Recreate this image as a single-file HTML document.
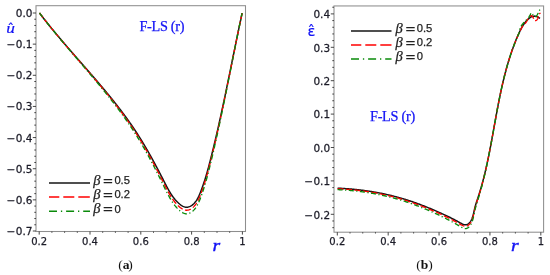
<!DOCTYPE html>
<html><head><meta charset="utf-8"><style>
html,body{margin:0;padding:0;background:#fff;}
svg{display:block;}
</style></head><body>
<svg width="550" height="275" viewBox="0 0 550 275">
<rect width="550" height="275" fill="#fff"/>
<!-- LEFT PLOT -->
<rect x="36" y="5.7" width="209.5" height="225.8" fill="none" stroke="#8e8e8e" stroke-width="1.05"/>
<path d="M32.8,13.00 H36 M32.8,44.14 H36 M32.8,75.29 H36 M32.8,106.43 H36 M32.8,137.57 H36 M32.8,168.72 H36 M32.8,199.86 H36 M32.8,231.00 H36 M34.3,19.23 H36 M34.3,25.46 H36 M34.3,31.69 H36 M34.3,37.91 H36 M34.3,50.37 H36 M34.3,56.60 H36 M34.3,62.83 H36 M34.3,69.06 H36 M34.3,81.51 H36 M34.3,87.74 H36 M34.3,93.97 H36 M34.3,100.20 H36 M34.3,112.66 H36 M34.3,118.89 H36 M34.3,125.11 H36 M34.3,131.34 H36 M34.3,143.80 H36 M34.3,150.03 H36 M34.3,156.26 H36 M34.3,162.49 H36 M34.3,174.94 H36 M34.3,181.17 H36 M34.3,187.40 H36 M34.3,193.63 H36 M34.3,206.09 H36 M34.3,212.32 H36 M34.3,218.54 H36 M34.3,224.77 H36 M39.20,231.5 V234.6 M90.00,231.5 V234.6 M140.80,231.5 V234.6 M191.60,231.5 V234.6 M242.40,231.5 V234.6 M51.90,231.5 V232.8 M64.60,231.5 V232.8 M77.30,231.5 V232.8 M102.70,231.5 V232.8 M115.40,231.5 V232.8 M128.10,231.5 V232.8 M153.50,231.5 V232.8 M166.20,231.5 V232.8 M178.90,231.5 V232.8 M204.30,231.5 V232.8 M217.00,231.5 V232.8 M229.70,231.5 V232.8" stroke="#333" stroke-width="0.9" fill="none"/>
<g font-family="DejaVu Sans, Liberation Sans, sans-serif" font-size="10" fill="#1c1c28" stroke="#1c1c28" stroke-width="0.25">
<text transform="translate(32.5 17.00) scale(1.05 1)" text-anchor="end">0.0</text>
<text transform="translate(32.5 48.14) scale(1.05 1)" text-anchor="end"><tspan>−</tspan><tspan dx="0.4">0.1</tspan></text>
<text transform="translate(32.5 79.29) scale(1.05 1)" text-anchor="end"><tspan>−</tspan><tspan dx="0.4">0.2</tspan></text>
<text transform="translate(32.5 110.43) scale(1.05 1)" text-anchor="end"><tspan>−</tspan><tspan dx="0.4">0.3</tspan></text>
<text transform="translate(32.5 141.57) scale(1.05 1)" text-anchor="end"><tspan>−</tspan><tspan dx="0.4">0.4</tspan></text>
<text transform="translate(32.5 172.72) scale(1.05 1)" text-anchor="end"><tspan>−</tspan><tspan dx="0.4">0.5</tspan></text>
<text transform="translate(32.5 203.86) scale(1.05 1)" text-anchor="end"><tspan>−</tspan><tspan dx="0.4">0.6</tspan></text>
<text transform="translate(32.5 235.00) scale(1.05 1)" text-anchor="end"><tspan>−</tspan><tspan dx="0.4">0.7</tspan></text>
<text x="39.20" y="245.20" text-anchor="middle">0.2</text>
<text x="90.00" y="245.20" text-anchor="middle">0.4</text>
<text x="140.80" y="245.20" text-anchor="middle">0.6</text>
<text x="191.60" y="245.20" text-anchor="middle">0.8</text>
<text x="242.40" y="245.20" text-anchor="middle">1</text>
</g>
<g fill="none" stroke-linejoin="round">
<path d="M39.50,13.01 L39.95,13.60 L40.40,14.20 L40.86,14.80 L41.31,15.39 L41.77,15.99 L42.23,16.58 L42.69,17.17 L43.15,17.77 L43.61,18.36 L44.07,18.95 L44.53,19.54 L45.00,20.13 L45.46,20.72 L45.93,21.31 L46.39,21.90 L46.86,22.49 L47.33,23.08 L47.80,23.66 L48.27,24.25 L48.74,24.84 L49.21,25.42 L49.69,26.01 L50.16,26.59 L50.63,27.18 L51.11,27.76 L51.58,28.35 L52.06,28.93 L52.54,29.51 L53.02,30.09 L53.50,30.67 L53.98,31.26 L54.46,31.84 L54.94,32.42 L55.42,33.00 L55.90,33.58 L56.38,34.15 L56.87,34.73 L57.35,35.31 L57.84,35.89 L58.32,36.47 L58.81,37.04 L59.30,37.62 L59.78,38.20 L60.27,38.77 L60.76,39.35 L61.25,39.93 L61.74,40.50 L62.23,41.08 L62.72,41.65 L63.21,42.23 L63.70,42.80 L64.19,43.37 L64.68,43.95 L65.17,44.52 L65.67,45.09 L66.16,45.67 L66.65,46.24 L67.15,46.81 L67.64,47.38 L68.14,47.96 L68.63,48.53 L69.13,49.10 L69.62,49.67 L70.12,50.24 L70.62,50.81 L71.11,51.39 L71.61,51.96 L72.11,52.53 L72.60,53.10 L73.10,53.67 L73.60,54.24 L74.10,54.81 L74.59,55.38 L75.09,55.95 L75.59,56.52 L76.09,57.09 L76.59,57.66 L77.09,58.23 L77.59,58.80 L78.08,59.37 L78.58,59.94 L79.08,60.51 L79.58,61.08 L80.08,61.65 L80.58,62.22 L81.08,62.79 L81.58,63.36 L82.08,63.93 L82.58,64.50 L83.07,65.07 L83.57,65.64 L84.07,66.21 L84.57,66.78 L85.07,67.35 L85.57,67.92 L86.07,68.49 L86.57,69.06 L87.06,69.63 L87.56,70.20 L88.06,70.77 L88.56,71.34 L89.05,71.92 L89.55,72.49 L90.05,73.06 L90.54,73.63 L91.04,74.20 L91.54,74.77 L92.03,75.35 L92.53,75.92 L93.02,76.49 L93.52,77.06 L94.01,77.64 L94.51,78.21 L95.00,78.78 L95.50,79.36 L95.99,79.93 L96.48,80.51 L96.98,81.08 L97.47,81.65 L97.96,82.23 L98.45,82.81 L98.94,83.38 L99.43,83.96 L99.92,84.53 L100.41,85.11 L100.90,85.69 L101.39,86.26 L101.87,86.84 L102.36,87.42 L102.85,88.00 L103.33,88.58 L103.82,89.16 L104.30,89.74 L104.79,90.32 L105.27,90.90 L105.76,91.48 L106.24,92.06 L106.72,92.64 L107.20,93.22 L107.68,93.80 L108.16,94.39 L108.64,94.97 L109.12,95.55 L109.60,96.14 L110.07,96.72 L110.55,97.31 L111.02,97.89 L111.50,98.48 L111.97,99.07 L112.44,99.65 L112.92,100.24 L113.39,100.83 L113.86,101.42 L114.33,102.01 L114.79,102.60 L115.26,103.19 L115.73,103.78 L116.19,104.37 L116.66,104.97 L117.12,105.56 L117.59,106.15 L118.05,106.75 L118.51,107.34 L118.97,107.94 L119.43,108.53 L119.89,109.13 L120.34,109.73 L120.80,110.33 L121.25,110.92 L121.71,111.52 L122.16,112.12 L122.61,112.73 L123.06,113.33 L123.51,113.93 L123.96,114.53 L124.41,115.14 L124.85,115.74 L125.30,116.35 L125.74,116.95 L126.18,117.56 L126.62,118.17 L127.06,118.78 L127.50,119.39 L127.94,120.00 L128.37,120.61 L128.81,121.22 L129.24,121.83 L129.67,122.44 L130.11,123.06 L130.53,123.67 L130.96,124.29 L131.39,124.91 L131.82,125.52 L132.24,126.14 L132.66,126.76 L133.08,127.38 L133.50,128.00 L133.92,128.62 L134.34,129.25 L134.75,129.87 L135.17,130.50 L135.58,131.12 L135.99,131.75 L136.40,132.38 L136.81,133.00 L137.22,133.63 L137.62,134.26 L138.03,134.90 L138.43,135.53 L138.83,136.16 L139.23,136.80 L139.63,137.43 L140.03,138.07 L140.42,138.70 L140.82,139.34 L141.21,139.98 L141.60,140.62 L142.00,141.26 L142.39,141.90 L142.78,142.54 L143.16,143.19 L143.55,143.83 L143.94,144.48 L144.32,145.12 L144.71,145.77 L145.09,146.42 L145.47,147.06 L145.85,147.71 L146.23,148.36 L146.61,149.01 L146.99,149.67 L147.36,150.32 L147.74,150.97 L148.11,151.63 L148.49,152.28 L148.86,152.94 L149.23,153.59 L149.60,154.25 L149.97,154.91 L150.34,155.57 L150.71,156.23 L151.08,156.89 L151.45,157.55 L151.82,158.22 L152.18,158.88 L152.55,159.54 L152.91,160.21 L153.28,160.88 L153.64,161.54 L154.00,162.21 L154.36,162.88 L154.73,163.55 L155.09,164.22 L155.45,164.89 L155.81,165.56 L156.17,166.23 L156.53,166.91 L156.88,167.58 L157.24,168.26 L157.60,168.93 L157.96,169.61 L158.31,170.29 L158.67,170.96 L159.03,171.64 L159.38,172.32 L159.74,173.00 L160.09,173.68 L160.45,174.37 L160.80,175.05 L161.15,175.73 L161.51,176.42 L161.86,177.10 L162.21,177.79 L162.57,178.47 L162.92,179.16 L163.27,179.85 L163.62,180.54 L163.98,181.23 L164.33,181.92 L164.68,182.61 L165.04,183.29 L165.39,183.98 L165.75,184.67 L166.10,185.36 L166.46,186.04 L166.82,186.73 L167.19,187.41 L167.55,188.08 L167.92,188.76 L168.30,189.43 L168.67,190.10 L169.05,190.76 L169.44,191.42 L169.83,192.07 L170.22,192.72 L170.62,193.36 L171.02,194.00 L171.44,194.63 L171.85,195.25 L172.27,195.87 L172.70,196.48 L173.14,197.08 L173.58,197.67 L174.03,198.25 L174.49,198.83 L174.95,199.40 L175.43,199.95 L175.91,200.50 L176.40,201.04 L176.90,201.56 L177.41,202.08 L177.93,202.58 L178.46,203.07 L179.01,203.55 L179.56,204.02 L180.12,204.47 L180.69,204.91 L181.27,205.32 L181.86,205.71 L182.46,206.07 L183.07,206.38 L183.69,206.66 L184.31,206.89 L184.94,207.06 L185.58,207.18 L186.22,207.24 L186.86,207.23 L187.51,207.16 L188.15,207.04 L188.79,206.87 L189.43,206.64 L190.05,206.37 L190.67,206.06 L191.27,205.70 L191.86,205.31 L192.43,204.89 L192.98,204.44 L193.51,203.96 L194.03,203.45 L194.52,202.92 L195.00,202.36 L195.46,201.78 L195.91,201.18 L196.34,200.56 L196.75,199.92 L197.15,199.27 L197.54,198.59 L197.92,197.91 L198.28,197.21 L198.64,196.50 L198.98,195.78 L199.31,195.05 L199.63,194.31 L199.95,193.56 L200.26,192.81 L200.56,192.06 L200.85,191.31 L201.14,190.55 L201.42,189.80 L201.70,189.04 L201.98,188.29 L202.25,187.54 L202.51,186.80 L202.78,186.05 L203.04,185.31 L203.29,184.57 L203.54,183.83 L203.79,183.09 L204.03,182.35 L204.28,181.61 L204.51,180.88 L204.75,180.15 L204.98,179.41 L205.21,178.68 L205.43,177.95 L205.66,177.23 L205.88,176.50 L206.10,175.77 L206.31,175.05 L206.52,174.32 L206.73,173.60 L206.94,172.87 L207.15,172.15 L207.35,171.43 L207.55,170.71 L207.75,169.99 L207.95,169.27 L208.15,168.55 L208.34,167.83 L208.54,167.11 L208.73,166.39 L208.92,165.67 L209.11,164.95 L209.30,164.23 L209.49,163.51 L209.67,162.79 L209.86,162.07 L210.04,161.35 L210.23,160.63 L210.41,159.91 L210.59,159.19 L210.78,158.47 L210.96,157.75 L211.14,157.03 L211.32,156.30 L211.50,155.58 L211.68,154.86 L211.86,154.13 L212.04,153.41 L212.22,152.69 L212.40,151.96 L212.58,151.24 L212.76,150.51 L212.94,149.79 L213.11,149.06 L213.29,148.33 L213.47,147.61 L213.64,146.88 L213.82,146.15 L213.99,145.43 L214.17,144.70 L214.34,143.97 L214.52,143.24 L214.69,142.51 L214.86,141.78 L215.03,141.05 L215.21,140.32 L215.38,139.59 L215.55,138.86 L215.72,138.13 L215.89,137.40 L216.06,136.67 L216.23,135.94 L216.40,135.20 L216.57,134.47 L216.74,133.74 L216.91,133.01 L217.08,132.27 L217.25,131.54 L217.42,130.81 L217.58,130.07 L217.75,129.34 L217.92,128.60 L218.08,127.87 L218.25,127.14 L218.42,126.40 L218.58,125.66 L218.75,124.93 L218.91,124.19 L219.08,123.46 L219.24,122.72 L219.40,121.98 L219.57,121.25 L219.73,120.51 L219.89,119.77 L220.06,119.04 L220.22,118.30 L220.38,117.56 L220.54,116.82 L220.71,116.09 L220.87,115.35 L221.03,114.61 L221.19,113.87 L221.35,113.13 L221.51,112.39 L221.67,111.65 L221.83,110.91 L221.99,110.17 L222.15,109.43 L222.31,108.69 L222.47,107.95 L222.63,107.21 L222.79,106.47 L222.94,105.73 L223.10,104.99 L223.26,104.25 L223.42,103.51 L223.58,102.77 L223.73,102.03 L223.89,101.29 L224.05,100.55 L224.20,99.80 L224.36,99.06 L224.52,98.32 L224.67,97.58 L224.83,96.84 L224.98,96.09 L225.14,95.35 L225.29,94.61 L225.45,93.87 L225.61,93.13 L225.76,92.38 L225.91,91.64 L226.07,90.90 L226.22,90.15 L226.38,89.41 L226.53,88.67 L226.69,87.93 L226.84,87.18 L226.99,86.44 L227.15,85.70 L227.30,84.95 L227.45,84.21 L227.61,83.47 L227.76,82.72 L227.91,81.98 L228.07,81.24 L228.22,80.49 L228.37,79.75 L228.52,79.01 L228.68,78.26 L228.83,77.52 L228.98,76.78 L229.13,76.03 L229.29,75.29 L229.44,74.55 L229.59,73.80 L229.74,73.06 L229.89,72.32 L230.05,71.57 L230.20,70.83 L230.35,70.09 L230.50,69.34 L230.65,68.60 L230.80,67.86 L230.95,67.11 L231.11,66.37 L231.26,65.63 L231.41,64.89 L231.56,64.14 L231.71,63.40 L231.86,62.66 L232.01,61.91 L232.16,61.17 L232.32,60.43 L232.47,59.69 L232.62,58.94 L232.77,58.20 L232.92,57.46 L233.07,56.72 L233.22,55.97 L233.37,55.23 L233.52,54.49 L233.68,53.75 L233.83,53.01 L233.98,52.26 L234.13,51.52 L234.28,50.78 L234.43,50.04 L234.58,49.30 L234.73,48.56 L234.88,47.82 L235.04,47.08 L235.19,46.33 L235.34,45.59 L235.49,44.85 L235.64,44.11 L235.79,43.37 L235.94,42.63 L236.10,41.89 L236.25,41.15 L236.40,40.41 L236.55,39.68 L236.70,38.94 L236.86,38.20 L237.01,37.46 L237.16,36.72 L237.31,35.98 L237.46,35.24 L237.62,34.51 L237.77,33.77 L237.92,33.03 L238.08,32.29 L238.23,31.55 L238.38,30.82 L238.53,30.08 L238.69,29.34 L238.84,28.61 L238.99,27.87 L239.15,27.14 L239.30,26.40 L239.46,25.66 L239.61,24.93 L239.76,24.19 L239.92,23.46 L240.07,22.73 L240.23,21.99 L240.38,21.26 L240.54,20.52 L240.69,19.79 L240.85,19.06 L241.00,18.32 L241.16,17.59 L241.32,16.86 L241.47,16.13 L241.63,15.39 L241.78,14.66 L241.94,13.93 L242.10,13.20" stroke="#151515" stroke-width="1.5"/>
<path d="M39.50,13.01 L39.95,13.60 L40.40,14.20 L40.86,14.80 L41.31,15.39 L41.77,15.99 L42.23,16.59 L42.69,17.18 L43.15,17.77 L43.61,18.37 L44.07,18.96 L44.53,19.56 L45.00,20.15 L45.46,20.74 L45.93,21.33 L46.39,21.92 L46.86,22.51 L47.33,23.10 L47.80,23.69 L48.27,24.28 L48.74,24.87 L49.21,25.46 L49.69,26.05 L50.16,26.64 L50.63,27.22 L51.11,27.81 L51.58,28.40 L52.06,28.98 L52.54,29.57 L53.02,30.15 L53.50,30.74 L53.98,31.32 L54.46,31.91 L54.94,32.49 L55.42,33.07 L55.90,33.66 L56.38,34.24 L56.87,34.82 L57.35,35.41 L57.84,35.99 L58.32,36.57 L58.81,37.15 L59.30,37.73 L59.78,38.31 L60.27,38.89 L60.76,39.47 L61.25,40.05 L61.74,40.63 L62.23,41.21 L62.72,41.79 L63.21,42.37 L63.70,42.95 L64.19,43.53 L64.68,44.11 L65.17,44.68 L65.67,45.26 L66.16,45.84 L66.65,46.42 L67.15,46.99 L67.64,47.57 L68.14,48.15 L68.63,48.73 L69.13,49.30 L69.62,49.88 L70.12,50.46 L70.62,51.03 L71.11,51.61 L71.61,52.19 L72.11,52.76 L72.60,53.34 L73.10,53.91 L73.60,54.49 L74.10,55.07 L74.59,55.64 L75.09,56.22 L75.59,56.79 L76.09,57.37 L76.59,57.95 L77.09,58.52 L77.59,59.10 L78.08,59.67 L78.58,60.25 L79.08,60.83 L79.58,61.40 L80.08,61.98 L80.58,62.55 L81.08,63.13 L81.58,63.71 L82.08,64.28 L82.58,64.86 L83.07,65.43 L83.57,66.01 L84.07,66.59 L84.57,67.16 L85.07,67.74 L85.57,68.32 L86.07,68.90 L86.57,69.47 L87.06,70.05 L87.56,70.63 L88.06,71.20 L88.56,71.78 L89.05,72.36 L89.55,72.94 L90.05,73.52 L90.54,74.10 L91.04,74.67 L91.54,75.25 L92.03,75.83 L92.53,76.41 L93.02,76.99 L93.52,77.57 L94.01,78.15 L94.51,78.73 L95.00,79.31 L95.50,79.90 L95.99,80.48 L96.48,81.06 L96.98,81.64 L97.47,82.22 L97.96,82.81 L98.45,83.39 L98.94,83.97 L99.43,84.56 L99.92,85.14 L100.41,85.72 L100.90,86.31 L101.39,86.89 L101.87,87.48 L102.36,88.07 L102.85,88.65 L103.33,89.24 L103.82,89.83 L104.30,90.41 L104.79,91.00 L105.27,91.59 L105.76,92.18 L106.24,92.77 L106.72,93.36 L107.20,93.95 L107.68,94.54 L108.16,95.13 L108.64,95.72 L109.12,96.32 L109.60,96.91 L110.07,97.50 L110.55,98.10 L111.02,98.69 L111.50,99.29 L111.97,99.88 L112.44,100.48 L112.92,101.08 L113.39,101.67 L113.86,102.27 L114.33,102.87 L114.79,103.47 L115.26,104.07 L115.73,104.67 L116.19,105.27 L116.66,105.87 L117.12,106.48 L117.59,107.08 L118.05,107.68 L118.51,108.29 L118.97,108.89 L119.43,109.50 L119.89,110.10 L120.34,110.71 L120.80,111.32 L121.25,111.93 L121.71,112.54 L122.16,113.15 L122.61,113.76 L123.06,114.37 L123.51,114.98 L123.96,115.60 L124.41,116.21 L124.85,116.82 L125.30,117.44 L125.74,118.06 L126.18,118.67 L126.62,119.29 L127.06,119.91 L127.50,120.53 L127.94,121.15 L128.37,121.77 L128.81,122.39 L129.24,123.02 L129.67,123.64 L130.11,124.27 L130.53,124.89 L130.96,125.52 L131.39,126.15 L131.82,126.78 L132.24,127.41 L132.66,128.04 L133.08,128.67 L133.50,129.30 L133.92,129.93 L134.34,130.57 L134.75,131.20 L135.17,131.84 L135.58,132.48 L135.99,133.11 L136.40,133.75 L136.81,134.39 L137.22,135.03 L137.62,135.68 L138.03,136.32 L138.43,136.96 L138.83,137.61 L139.23,138.26 L139.63,138.90 L140.03,139.55 L140.42,140.20 L140.82,140.85 L141.21,141.50 L141.60,142.15 L142.00,142.80 L142.39,143.46 L142.78,144.11 L143.16,144.77 L143.55,145.43 L143.94,146.08 L144.32,146.74 L144.71,147.40 L145.09,148.06 L145.47,148.72 L145.85,149.38 L146.23,150.05 L146.61,150.71 L146.99,151.38 L147.36,152.04 L147.74,152.71 L148.11,153.38 L148.49,154.04 L148.86,154.71 L149.23,155.38 L149.60,156.06 L149.97,156.73 L150.34,157.40 L150.71,158.07 L151.08,158.75 L151.45,159.42 L151.82,160.10 L152.18,160.78 L152.55,161.46 L152.91,162.14 L153.28,162.82 L153.64,163.50 L154.00,164.18 L154.36,164.86 L154.73,165.54 L155.09,166.23 L155.45,166.91 L155.81,167.60 L156.17,168.29 L156.53,168.98 L156.88,169.66 L157.24,170.35 L157.60,171.04 L157.96,171.73 L158.31,172.43 L158.67,173.12 L159.03,173.81 L159.38,174.51 L159.74,175.20 L160.09,175.90 L160.45,176.60 L160.80,177.29 L161.15,177.99 L161.51,178.69 L161.86,179.39 L162.21,180.09 L162.57,180.79 L162.92,181.50 L163.27,182.20 L163.62,182.90 L163.98,183.61 L164.33,184.32 L164.68,185.02 L165.04,185.73 L165.39,186.43 L165.75,187.13 L166.10,187.84 L166.46,188.54 L166.82,189.24 L167.19,189.93 L167.55,190.63 L167.92,191.32 L168.30,192.00 L168.67,192.68 L169.05,193.36 L169.44,194.04 L169.83,194.71 L170.22,195.37 L170.62,196.03 L171.02,196.68 L171.44,197.32 L171.85,197.96 L172.27,198.59 L172.70,199.22 L173.14,199.83 L173.58,200.44 L174.03,201.04 L174.49,201.63 L174.95,202.21 L175.43,202.78 L175.91,203.34 L176.40,203.89 L176.90,204.42 L177.41,204.95 L177.93,205.47 L178.46,205.97 L179.01,206.46 L179.56,206.94 L180.12,207.41 L180.69,207.85 L181.27,208.28 L181.86,208.67 L182.46,209.04 L183.07,209.36 L183.69,209.65 L184.31,209.88 L184.94,210.06 L185.58,210.18 L186.22,210.24 L186.86,210.23 L187.51,210.16 L188.15,210.04 L188.79,209.86 L189.43,209.63 L190.05,209.35 L190.67,209.03 L191.27,208.66 L191.86,208.27 L192.43,207.83 L192.98,207.37 L193.51,206.88 L194.03,206.36 L194.52,205.81 L195.00,205.24 L195.46,204.65 L195.91,204.03 L196.34,203.40 L196.75,202.74 L197.15,202.07 L197.54,201.38 L197.92,200.68 L198.28,199.96 L198.64,199.24 L198.98,198.50 L199.31,197.75 L199.63,196.99 L199.95,196.23 L200.26,195.47 L200.56,194.70 L200.85,193.92 L201.14,193.15 L201.42,192.38 L201.70,191.61 L201.98,190.84 L202.25,190.07 L202.51,189.31 L202.78,188.55 L203.04,187.79 L203.29,187.03 L203.54,186.27 L203.79,185.51 L204.03,184.76 L204.28,184.01 L204.51,183.26 L204.75,182.51 L204.98,181.76 L205.21,181.01 L205.43,180.26 L205.66,179.52 L205.88,178.78 L206.10,178.03 L206.31,177.29 L206.52,176.55 L206.73,175.81 L206.94,175.07 L207.15,174.33 L207.35,173.59 L207.55,172.86 L207.75,172.12 L207.95,171.38 L208.15,170.65 L208.34,169.91 L208.54,169.18 L208.73,168.44 L208.92,167.71 L209.11,166.97 L209.30,166.24 L209.49,165.51 L209.67,164.77 L209.86,164.04 L210.04,163.30 L210.23,162.57 L210.41,161.83 L210.59,161.10 L210.78,160.36 L210.96,159.62 L211.14,158.89 L211.32,158.15 L211.50,157.41 L211.68,156.67 L211.86,155.93 L212.04,155.20 L212.22,154.46 L212.40,153.72 L212.58,152.98 L212.76,152.24 L212.94,151.50 L213.11,150.76 L213.29,150.02 L213.47,149.28 L213.64,148.53 L213.82,147.79 L213.99,147.05 L214.17,146.31 L214.34,145.57 L214.52,144.82 L214.69,144.08 L214.86,143.34 L215.03,142.59 L215.21,141.85 L215.38,141.11 L215.55,140.36 L215.72,139.62 L215.89,138.87 L216.06,138.13 L216.23,137.38 L216.40,136.63 L216.57,135.89 L216.74,135.14 L216.91,134.40 L217.08,133.65 L217.25,132.90 L217.42,132.16 L217.58,131.41 L217.75,130.66 L217.92,129.91 L218.08,129.17 L218.25,128.42 L218.42,127.67 L218.58,126.92 L218.75,126.17 L218.91,125.42 L219.08,124.67 L219.24,123.92 L219.40,123.18 L219.57,122.43 L219.73,121.68 L219.89,120.93 L220.06,120.18 L220.22,119.43 L220.38,118.68 L220.54,117.92 L220.71,117.17 L220.87,116.42 L221.03,115.67 L221.19,114.92 L221.35,114.17 L221.51,113.42 L221.67,112.67 L221.83,111.92 L221.99,111.16 L222.15,110.41 L222.31,109.66 L222.47,108.91 L222.63,108.16 L222.79,107.40 L222.94,106.65 L223.10,105.90 L223.26,105.15 L223.42,104.39 L223.58,103.64 L223.73,102.89 L223.89,102.14 L224.05,101.38 L224.20,100.63 L224.36,99.88 L224.52,99.13 L224.67,98.37 L224.83,97.62 L224.98,96.87 L225.14,96.11 L225.29,95.36 L225.45,94.61 L225.61,93.85 L225.76,93.10 L225.91,92.35 L226.07,91.59 L226.22,90.84 L226.38,90.09 L226.53,89.33 L226.69,88.58 L226.84,87.83 L226.99,87.07 L227.15,86.32 L227.30,85.57 L227.45,84.81 L227.61,84.06 L227.76,83.31 L227.91,82.55 L228.07,81.80 L228.22,81.05 L228.37,80.29 L228.52,79.54 L228.68,78.79 L228.83,78.04 L228.98,77.28 L229.13,76.53 L229.29,75.78 L229.44,75.02 L229.59,74.27 L229.74,73.52 L229.89,72.77 L230.05,72.01 L230.20,71.26 L230.35,70.51 L230.50,69.76 L230.65,69.01 L230.80,68.25 L230.95,67.50 L231.11,66.75 L231.26,66.00 L231.41,65.25 L231.56,64.50 L231.71,63.75 L231.86,62.99 L232.01,62.24 L232.16,61.49 L232.32,60.74 L232.47,59.99 L232.62,59.24 L232.77,58.49 L232.92,57.74 L233.07,56.99 L233.22,56.24 L233.37,55.49 L233.52,54.74 L233.68,53.99 L233.83,53.25 L233.98,52.50 L234.13,51.75 L234.28,51.00 L234.43,50.25 L234.58,49.50 L234.73,48.76 L234.88,48.01 L235.04,47.26 L235.19,46.51 L235.34,45.77 L235.49,45.02 L235.64,44.27 L235.79,43.53 L235.94,42.78 L236.10,42.04 L236.25,41.29 L236.40,40.55 L236.55,39.80 L236.70,39.06 L236.86,38.31 L237.01,37.57 L237.16,36.82 L237.31,36.08 L237.46,35.34 L237.62,34.59 L237.77,33.85 L237.92,33.11 L238.08,32.37 L238.23,31.62 L238.38,30.88 L238.53,30.14 L238.69,29.40 L238.84,28.66 L238.99,27.92 L239.15,27.18 L239.30,26.44 L239.46,25.70 L239.61,24.96 L239.76,24.23 L239.92,23.49 L240.07,22.75 L240.23,22.01 L240.38,21.28 L240.54,20.54 L240.69,19.80 L240.85,19.07 L241.00,18.33 L241.16,17.60 L241.32,16.86 L241.47,16.13 L241.63,15.40 L241.78,14.66 L241.94,13.93 L242.10,13.20" stroke="#f00" stroke-width="1.35" stroke-dasharray="6 2.5"/>
<path d="M39.50,13.01 L39.95,13.60 L40.40,14.20 L40.86,14.80 L41.31,15.40 L41.77,15.99 L42.23,16.59 L42.69,17.19 L43.15,17.78 L43.61,18.38 L44.07,18.98 L44.53,19.57 L45.00,20.17 L45.46,20.76 L45.93,21.36 L46.39,21.95 L46.86,22.54 L47.33,23.14 L47.80,23.73 L48.27,24.32 L48.74,24.91 L49.21,25.50 L49.69,26.10 L50.16,26.69 L50.63,27.28 L51.11,27.87 L51.58,28.46 L52.06,29.05 L52.54,29.64 L53.02,30.23 L53.50,30.82 L53.98,31.41 L54.46,31.99 L54.94,32.58 L55.42,33.17 L55.90,33.76 L56.38,34.34 L56.87,34.93 L57.35,35.52 L57.84,36.11 L58.32,36.69 L58.81,37.28 L59.30,37.86 L59.78,38.45 L60.27,39.03 L60.76,39.62 L61.25,40.21 L61.74,40.79 L62.23,41.37 L62.72,41.96 L63.21,42.54 L63.70,43.13 L64.19,43.71 L64.68,44.30 L65.17,44.88 L65.67,45.46 L66.16,46.05 L66.65,46.63 L67.15,47.21 L67.64,47.80 L68.14,48.38 L68.63,48.96 L69.13,49.55 L69.62,50.13 L70.12,50.71 L70.62,51.30 L71.11,51.88 L71.61,52.46 L72.11,53.04 L72.60,53.63 L73.10,54.21 L73.60,54.79 L74.10,55.38 L74.59,55.96 L75.09,56.54 L75.59,57.12 L76.09,57.71 L76.59,58.29 L77.09,58.87 L77.59,59.45 L78.08,60.04 L78.58,60.62 L79.08,61.20 L79.58,61.79 L80.08,62.37 L80.58,62.95 L81.08,63.54 L81.58,64.12 L82.08,64.70 L82.58,65.29 L83.07,65.87 L83.57,66.46 L84.07,67.04 L84.57,67.63 L85.07,68.21 L85.57,68.80 L86.07,69.38 L86.57,69.97 L87.06,70.55 L87.56,71.14 L88.06,71.72 L88.56,72.31 L89.05,72.89 L89.55,73.48 L90.05,74.07 L90.54,74.65 L91.04,75.24 L91.54,75.83 L92.03,76.42 L92.53,77.01 L93.02,77.59 L93.52,78.18 L94.01,78.77 L94.51,79.36 L95.00,79.95 L95.50,80.54 L95.99,81.13 L96.48,81.72 L96.98,82.31 L97.47,82.91 L97.96,83.50 L98.45,84.09 L98.94,84.68 L99.43,85.27 L99.92,85.87 L100.41,86.46 L100.90,87.06 L101.39,87.65 L101.87,88.25 L102.36,88.84 L102.85,89.44 L103.33,90.03 L103.82,90.63 L104.30,91.23 L104.79,91.83 L105.27,92.43 L105.76,93.02 L106.24,93.62 L106.72,94.22 L107.20,94.82 L107.68,95.43 L108.16,96.03 L108.64,96.63 L109.12,97.23 L109.60,97.84 L110.07,98.44 L110.55,99.04 L111.02,99.65 L111.50,100.26 L111.97,100.86 L112.44,101.47 L112.92,102.08 L113.39,102.68 L113.86,103.29 L114.33,103.90 L114.79,104.51 L115.26,105.12 L115.73,105.74 L116.19,106.35 L116.66,106.96 L117.12,107.58 L117.59,108.19 L118.05,108.80 L118.51,109.42 L118.97,110.04 L119.43,110.65 L119.89,111.27 L120.34,111.89 L120.80,112.51 L121.25,113.13 L121.71,113.75 L122.16,114.38 L122.61,115.00 L123.06,115.62 L123.51,116.25 L123.96,116.87 L124.41,117.50 L124.85,118.12 L125.30,118.75 L125.74,119.38 L126.18,120.01 L126.62,120.64 L127.06,121.27 L127.50,121.90 L127.94,122.54 L128.37,123.17 L128.81,123.81 L129.24,124.44 L129.67,125.08 L130.11,125.72 L130.53,126.36 L130.96,127.00 L131.39,127.64 L131.82,128.28 L132.24,128.92 L132.66,129.57 L133.08,130.21 L133.50,130.86 L133.92,131.50 L134.34,132.15 L134.75,132.80 L135.17,133.45 L135.58,134.10 L135.99,134.75 L136.40,135.41 L136.81,136.06 L137.22,136.72 L137.62,137.37 L138.03,138.03 L138.43,138.69 L138.83,139.35 L139.23,140.01 L139.63,140.67 L140.03,141.33 L140.42,141.99 L140.82,142.66 L141.21,143.32 L141.60,143.99 L142.00,144.66 L142.39,145.33 L142.78,146.00 L143.16,146.67 L143.55,147.34 L143.94,148.01 L144.32,148.68 L144.71,149.36 L145.09,150.03 L145.47,150.71 L145.85,151.39 L146.23,152.07 L146.61,152.75 L146.99,153.43 L147.36,154.11 L147.74,154.79 L148.11,155.47 L148.49,156.16 L148.86,156.84 L149.23,157.53 L149.60,158.22 L149.97,158.91 L150.34,159.60 L150.71,160.29 L151.08,160.98 L151.45,161.67 L151.82,162.36 L152.18,163.06 L152.55,163.75 L152.91,164.45 L153.28,165.14 L153.64,165.84 L154.00,166.54 L154.36,167.24 L154.73,167.94 L155.09,168.64 L155.45,169.34 L155.81,170.05 L156.17,170.75 L156.53,171.46 L156.88,172.16 L157.24,172.87 L157.60,173.58 L157.96,174.29 L158.31,175.00 L158.67,175.71 L159.03,176.42 L159.38,177.13 L159.74,177.84 L160.09,178.56 L160.45,179.27 L160.80,179.99 L161.15,180.71 L161.51,181.42 L161.86,182.14 L162.21,182.86 L162.57,183.58 L162.92,184.30 L163.27,185.02 L163.62,185.75 L163.98,186.47 L164.33,187.19 L164.68,187.92 L165.04,188.64 L165.39,189.37 L165.75,190.09 L166.10,190.81 L166.46,191.53 L166.82,192.25 L167.19,192.96 L167.55,193.68 L167.92,194.38 L168.30,195.09 L168.67,195.79 L169.05,196.49 L169.44,197.18 L169.83,197.87 L170.22,198.55 L170.62,199.22 L171.02,199.89 L171.44,200.56 L171.85,201.21 L172.27,201.86 L172.70,202.50 L173.14,203.14 L173.58,203.76 L174.03,204.37 L174.49,204.98 L174.95,205.58 L175.43,206.16 L175.91,206.74 L176.40,207.30 L176.90,207.86 L177.41,208.40 L177.93,208.93 L178.46,209.45 L179.01,209.95 L179.56,210.45 L180.12,210.93 L180.69,211.39 L181.27,211.82 L181.86,212.23 L182.46,212.61 L183.07,212.94 L183.69,213.23 L184.31,213.47 L184.94,213.66 L185.58,213.78 L186.22,213.84 L186.86,213.83 L187.51,213.76 L188.15,213.63 L188.79,213.45 L189.43,213.21 L190.05,212.92 L190.67,212.59 L191.27,212.22 L191.86,211.81 L192.43,211.36 L192.98,210.89 L193.51,210.38 L194.03,209.85 L194.52,209.29 L195.00,208.70 L195.46,208.09 L195.91,207.46 L196.34,206.80 L196.75,206.13 L197.15,205.44 L197.54,204.73 L197.92,204.01 L198.28,203.27 L198.64,202.52 L198.98,201.77 L199.31,201.00 L199.63,200.22 L199.95,199.44 L200.26,198.65 L200.56,197.86 L200.85,197.06 L201.14,196.27 L201.42,195.48 L201.70,194.69 L201.98,193.90 L202.25,193.11 L202.51,192.32 L202.78,191.54 L203.04,190.76 L203.29,189.98 L203.54,189.20 L203.79,188.43 L204.03,187.65 L204.28,186.88 L204.51,186.11 L204.75,185.34 L204.98,184.57 L205.21,183.80 L205.43,183.04 L205.66,182.27 L205.88,181.51 L206.10,180.75 L206.31,179.99 L206.52,179.23 L206.73,178.47 L206.94,177.71 L207.15,176.95 L207.35,176.19 L207.55,175.44 L207.75,174.68 L207.95,173.93 L208.15,173.17 L208.34,172.42 L208.54,171.67 L208.73,170.91 L208.92,170.16 L209.11,169.41 L209.30,168.65 L209.49,167.90 L209.67,167.15 L209.86,166.39 L210.04,165.64 L210.23,164.89 L210.41,164.13 L210.59,163.38 L210.78,162.63 L210.96,161.87 L211.14,161.12 L211.32,160.36 L211.50,159.61 L211.68,158.85 L211.86,158.10 L212.04,157.34 L212.22,156.58 L212.40,155.83 L212.58,155.07 L212.76,154.31 L212.94,153.55 L213.11,152.80 L213.29,152.04 L213.47,151.28 L213.64,150.52 L213.82,149.76 L213.99,149.00 L214.17,148.24 L214.34,147.48 L214.52,146.72 L214.69,145.96 L214.86,145.20 L215.03,144.44 L215.21,143.68 L215.38,142.92 L215.55,142.16 L215.72,141.40 L215.89,140.64 L216.06,139.87 L216.23,139.11 L216.40,138.35 L216.57,137.59 L216.74,136.83 L216.91,136.06 L217.08,135.30 L217.25,134.54 L217.42,133.77 L217.58,133.01 L217.75,132.25 L217.92,131.48 L218.08,130.72 L218.25,129.96 L218.42,129.19 L218.58,128.43 L218.75,127.66 L218.91,126.90 L219.08,126.13 L219.24,125.37 L219.40,124.60 L219.57,123.84 L219.73,123.07 L219.89,122.31 L220.06,121.54 L220.22,120.78 L220.38,120.01 L220.54,119.25 L220.71,118.48 L220.87,117.72 L221.03,116.95 L221.19,116.18 L221.35,115.42 L221.51,114.65 L221.67,113.89 L221.83,113.12 L221.99,112.35 L222.15,111.59 L222.31,110.82 L222.47,110.05 L222.63,109.29 L222.79,108.52 L222.94,107.76 L223.10,106.99 L223.26,106.22 L223.42,105.46 L223.58,104.69 L223.73,103.92 L223.89,103.16 L224.05,102.39 L224.20,101.62 L224.36,100.86 L224.52,100.09 L224.67,99.32 L224.83,98.56 L224.98,97.79 L225.14,97.03 L225.29,96.26 L225.45,95.49 L225.61,94.73 L225.76,93.96 L225.91,93.19 L226.07,92.43 L226.22,91.66 L226.38,90.90 L226.53,90.13 L226.69,89.36 L226.84,88.60 L226.99,87.83 L227.15,87.07 L227.30,86.30 L227.45,85.54 L227.61,84.77 L227.76,84.01 L227.91,83.24 L228.07,82.48 L228.22,81.71 L228.37,80.95 L228.52,80.18 L228.68,79.42 L228.83,78.65 L228.98,77.89 L229.13,77.12 L229.29,76.36 L229.44,75.60 L229.59,74.83 L229.74,74.07 L229.89,73.31 L230.05,72.54 L230.20,71.78 L230.35,71.02 L230.50,70.26 L230.65,69.49 L230.80,68.73 L230.95,67.97 L231.11,67.21 L231.26,66.45 L231.41,65.68 L231.56,64.92 L231.71,64.16 L231.86,63.40 L232.01,62.64 L232.16,61.88 L232.32,61.12 L232.47,60.36 L232.62,59.60 L232.77,58.84 L232.92,58.08 L233.07,57.32 L233.22,56.56 L233.37,55.81 L233.52,55.05 L233.68,54.29 L233.83,53.53 L233.98,52.78 L234.13,52.02 L234.28,51.26 L234.43,50.51 L234.58,49.75 L234.73,48.99 L234.88,48.24 L235.04,47.48 L235.19,46.73 L235.34,45.97 L235.49,45.22 L235.64,44.47 L235.79,43.71 L235.94,42.96 L236.10,42.21 L236.25,41.45 L236.40,40.70 L236.55,39.95 L236.70,39.20 L236.86,38.45 L237.01,37.70 L237.16,36.95 L237.31,36.20 L237.46,35.45 L237.62,34.70 L237.77,33.95 L237.92,33.20 L238.08,32.46 L238.23,31.71 L238.38,30.96 L238.53,30.22 L238.69,29.47 L238.84,28.72 L238.99,27.98 L239.15,27.24 L239.30,26.49 L239.46,25.75 L239.61,25.01 L239.76,24.26 L239.92,23.52 L240.07,22.78 L240.23,22.04 L240.38,21.30 L240.54,20.56 L240.69,19.82 L240.85,19.08 L241.00,18.34 L241.16,17.61 L241.32,16.87 L241.47,16.14 L241.63,15.40 L241.78,14.67 L241.94,13.93 L242.10,13.20" stroke="#0a8a0a" stroke-width="1.35" stroke-dasharray="5 2.5 1.2 2.5"/>
</g>
<path d="M49.0,183.0 H90.0" stroke="#151515" stroke-width="1.7"/>
<path d="M49.0,197.0 H90.0" stroke="#f00" stroke-width="1.6" stroke-dasharray="10.3 4 11 4 11.5"/>
<path d="M49.0,211.3 H90.0" stroke="#0a8a0a" stroke-width="1.6" stroke-dasharray="8 3.9 1.3 3.9"/>
<g fill="#222" stroke="#222" stroke-width="0.25"><text x="93.3" y="184.6" font-family="Liberation Serif, serif" font-style="italic" font-size="14.5">β</text><text x="102.6" y="184.6" font-family="DejaVu Sans, sans-serif" font-size="13">=</text><text x="114.4" y="184.2" font-family="Liberation Sans, sans-serif" font-size="11.2">0.5</text></g>
<g fill="#222" stroke="#222" stroke-width="0.25"><text x="93.3" y="198.6" font-family="Liberation Serif, serif" font-style="italic" font-size="14.5">β</text><text x="102.6" y="198.6" font-family="DejaVu Sans, sans-serif" font-size="13">=</text><text x="114.4" y="198.2" font-family="Liberation Sans, sans-serif" font-size="11.2">0.2</text></g>
<g fill="#222" stroke="#222" stroke-width="0.25"><text x="93.3" y="212.9" font-family="Liberation Serif, serif" font-style="italic" font-size="14.5">β</text><text x="102.6" y="212.9" font-family="DejaVu Sans, sans-serif" font-size="13">=</text><text x="114.4" y="212.5" font-family="Liberation Sans, sans-serif" font-size="11.2">0</text></g>
<text x="139.4" y="30.7" font-family="Liberation Serif, serif" font-size="14.3" letter-spacing="-0.3" fill="#1414f5" stroke="#1414f5" stroke-width="0.25">F-LS (r)</text>
<text transform="translate(6.2 33.2) scale(1.12 0.9)" font-family="Liberation Serif, serif" font-style="italic" font-size="15.5" fill="#1414f5" stroke="#1414f5" stroke-width="0.2">u</text><text x="7.3" y="34.2" font-family="DejaVu Sans, sans-serif" font-size="14" fill="#1414f5" stroke="#1414f5" stroke-width="0.15">&#710;</text>
<text transform="translate(212.5 250.8) scale(1.13 1)" font-family="Liberation Serif, serif" font-style="italic" font-size="17.5" fill="#1414f5" stroke="#1414f5" stroke-width="0.4">r</text>
<text x="118.3" y="269" font-family="Liberation Serif, serif" font-size="13.5" fill="#111">(<tspan font-weight="bold">a</tspan><tspan dx="-1.2">)</tspan></text>

<!-- RIGHT PLOT -->
<rect x="334" y="5.95" width="209.6" height="226.25" fill="none" stroke="#8e8e8e" stroke-width="1.05"/>
<path d="M330.8,13.90 H334 M330.8,47.30 H334 M330.8,80.70 H334 M330.8,114.10 H334 M330.8,147.50 H334 M330.8,180.90 H334 M330.8,214.30 H334 M332.3,7.22 H334 M332.3,20.58 H334 M332.3,27.26 H334 M332.3,33.94 H334 M332.3,40.62 H334 M332.3,53.98 H334 M332.3,60.66 H334 M332.3,67.34 H334 M332.3,74.02 H334 M332.3,87.38 H334 M332.3,94.06 H334 M332.3,100.74 H334 M332.3,107.42 H334 M332.3,120.78 H334 M332.3,127.46 H334 M332.3,134.14 H334 M332.3,140.82 H334 M332.3,154.18 H334 M332.3,160.86 H334 M332.3,167.54 H334 M332.3,174.22 H334 M332.3,187.58 H334 M332.3,194.26 H334 M332.3,200.94 H334 M332.3,207.62 H334 M332.3,220.98 H334 M332.3,227.66 H334 M337.30,232.2 V235.5 M388.18,232.2 V235.5 M439.06,232.2 V235.5 M489.94,232.2 V235.5 M540.82,232.2 V235.5 M350.02,232.2 V233.5 M362.74,232.2 V233.5 M375.46,232.2 V233.5 M400.90,232.2 V233.5 M413.62,232.2 V233.5 M426.34,232.2 V233.5 M451.78,232.2 V233.5 M464.50,232.2 V233.5 M477.22,232.2 V233.5 M502.66,232.2 V233.5 M515.38,232.2 V233.5 M528.10,232.2 V233.5" stroke="#333" stroke-width="0.9" fill="none"/>
<g font-family="DejaVu Sans, Liberation Sans, sans-serif" font-size="10" fill="#1c1c28" stroke="#1c1c28" stroke-width="0.25">
<text transform="translate(330.1 18.20) scale(1.05 1)" text-anchor="end">0.4</text>
<text transform="translate(330.1 51.60) scale(1.05 1)" text-anchor="end">0.3</text>
<text transform="translate(330.1 85.00) scale(1.05 1)" text-anchor="end">0.2</text>
<text transform="translate(330.1 118.40) scale(1.05 1)" text-anchor="end">0.1</text>
<text transform="translate(330.1 151.80) scale(1.05 1)" text-anchor="end">0.0</text>
<text transform="translate(330.1 185.20) scale(1.05 1)" text-anchor="end"><tspan>−</tspan><tspan dx="0.4">0.1</tspan></text>
<text transform="translate(330.1 218.60) scale(1.05 1)" text-anchor="end"><tspan>−</tspan><tspan dx="0.4">0.2</tspan></text>
<text x="337.30" y="245.20" text-anchor="middle">0.2</text>
<text x="388.18" y="245.20" text-anchor="middle">0.4</text>
<text x="439.06" y="245.20" text-anchor="middle">0.6</text>
<text x="489.94" y="245.20" text-anchor="middle">0.8</text>
<text x="540.82" y="245.20" text-anchor="middle">1</text>
</g>
<g fill="none" stroke-linejoin="round">
<path d="M337.60,188.20 L338.21,188.22 L338.82,188.25 L339.43,188.28 L340.04,188.31 L340.65,188.34 L341.26,188.37 L341.87,188.41 L342.48,188.44 L343.09,188.48 L343.70,188.51 L344.30,188.55 L344.91,188.59 L345.52,188.63 L346.13,188.68 L346.74,188.72 L347.35,188.76 L347.96,188.81 L348.57,188.86 L349.18,188.91 L349.79,188.95 L350.39,189.01 L351.00,189.06 L351.61,189.11 L352.22,189.17 L352.83,189.22 L353.44,189.28 L354.04,189.34 L354.65,189.40 L355.26,189.46 L355.87,189.52 L356.47,189.59 L357.08,189.65 L357.69,189.72 L358.30,189.78 L358.90,189.85 L359.51,189.92 L360.12,190.00 L360.72,190.07 L361.33,190.14 L361.94,190.22 L362.54,190.30 L363.15,190.37 L363.75,190.45 L364.36,190.53 L364.96,190.62 L365.57,190.70 L366.17,190.79 L366.78,190.87 L367.38,190.96 L367.99,191.05 L368.59,191.14 L369.20,191.23 L369.80,191.32 L370.41,191.42 L371.01,191.51 L371.61,191.61 L372.22,191.71 L372.82,191.81 L373.42,191.91 L374.02,192.01 L374.63,192.12 L375.23,192.22 L375.83,192.33 L376.43,192.44 L377.03,192.55 L377.63,192.66 L378.23,192.77 L378.83,192.88 L379.43,193.00 L380.03,193.12 L380.63,193.23 L381.23,193.35 L381.83,193.47 L382.43,193.60 L383.03,193.72 L383.63,193.85 L384.23,193.97 L384.82,194.10 L385.42,194.23 L386.02,194.36 L386.62,194.49 L387.21,194.63 L387.81,194.76 L388.40,194.90 L389.00,195.04 L389.60,195.18 L390.19,195.32 L390.79,195.46 L391.38,195.60 L391.97,195.75 L392.57,195.90 L393.16,196.04 L393.75,196.19 L394.35,196.35 L394.94,196.50 L395.53,196.65 L396.12,196.81 L396.71,196.97 L397.30,197.12 L397.89,197.28 L398.48,197.45 L399.07,197.61 L399.66,197.77 L400.25,197.94 L400.84,198.11 L401.43,198.28 L402.02,198.45 L402.60,198.62 L403.19,198.79 L403.78,198.97 L404.36,199.15 L404.95,199.32 L405.53,199.50 L406.12,199.69 L406.70,199.87 L407.29,200.05 L407.87,200.24 L408.45,200.43 L409.04,200.62 L409.62,200.81 L410.20,201.00 L410.78,201.19 L411.36,201.39 L411.94,201.58 L412.52,201.78 L413.10,201.98 L413.68,202.18 L414.26,202.39 L414.84,202.59 L415.42,202.80 L415.99,203.00 L416.57,203.21 L417.15,203.42 L417.72,203.63 L418.30,203.84 L418.87,204.06 L419.45,204.27 L420.02,204.49 L420.59,204.70 L421.16,204.92 L421.73,205.14 L422.30,205.36 L422.88,205.58 L423.44,205.80 L424.01,206.03 L424.58,206.25 L425.15,206.47 L425.72,206.70 L426.28,206.93 L426.85,207.15 L427.41,207.38 L427.98,207.61 L428.54,207.84 L429.10,208.07 L429.66,208.30 L430.23,208.53 L430.79,208.76 L431.35,209.00 L431.90,209.23 L432.46,209.46 L433.02,209.70 L433.58,209.93 L434.13,210.17 L434.69,210.41 L435.24,210.64 L435.80,210.88 L436.35,211.12 L436.90,211.36 L437.45,211.60 L438.01,211.84 L438.56,212.08 L439.11,212.33 L439.66,212.57 L440.21,212.82 L440.76,213.06 L441.31,213.31 L441.86,213.56 L442.41,213.81 L442.96,214.06 L443.51,214.32 L444.06,214.57 L444.61,214.83 L445.16,215.09 L445.71,215.35 L446.26,215.61 L446.81,215.87 L447.36,216.14 L447.91,216.40 L448.46,216.67 L449.02,216.94 L449.57,217.22 L450.12,217.49 L450.67,217.77 L451.23,218.05 L451.78,218.33 L452.34,218.62 L452.89,218.90 L453.45,219.19 L454.00,219.48 L454.56,219.78 L455.12,220.07 L455.68,220.37 L456.24,220.67 L456.80,220.98 L457.36,221.28 L457.93,221.59 L458.49,221.91 L459.06,222.22 L459.62,222.54 L460.19,222.86 L460.76,223.17 L461.32,223.47 L461.89,223.76 L462.45,224.02 L463.00,224.25 L463.56,224.45 L464.10,224.61 L464.64,224.72 L465.18,224.78 L465.70,224.78 L466.22,224.71 L466.72,224.58 L467.22,224.39 L467.70,224.15 L468.16,223.86 L468.61,223.52 L469.04,223.15 L469.45,222.74 L469.83,222.31 L470.20,221.85 L470.54,221.38 L470.86,220.89 L471.16,220.38 L471.44,219.85 L471.70,219.32 L471.95,218.77 L472.18,218.20 L472.39,217.63 L472.59,217.04 L472.78,216.45 L472.96,215.85 L473.13,215.24 L473.29,214.62 L473.44,214.00 L473.59,213.37 L473.74,212.74 L473.88,212.11 L474.01,211.48 L474.15,210.84 L474.29,210.21 L474.43,209.58 L474.57,208.95 L474.71,208.33 L474.86,207.71 L475.02,207.10 L475.18,206.49 L475.35,205.89 L475.52,205.29 L475.69,204.70 L475.87,204.11 L476.05,203.52 L476.24,202.94 L476.43,202.35 L476.61,201.77 L476.80,201.20 L477.00,200.62 L477.19,200.05 L477.38,199.47 L477.57,198.90 L477.76,198.33 L477.95,197.75 L478.14,197.18 L478.33,196.60 L478.52,196.03 L478.70,195.45 L478.89,194.87 L479.07,194.30 L479.25,193.72 L479.43,193.14 L479.61,192.56 L479.78,191.99 L479.96,191.41 L480.13,190.83 L480.31,190.25 L480.48,189.67 L480.65,189.08 L480.82,188.50 L480.99,187.92 L481.16,187.34 L481.32,186.76 L481.49,186.17 L481.65,185.59 L481.82,185.01 L481.98,184.42 L482.14,183.84 L482.30,183.25 L482.46,182.67 L482.61,182.08 L482.77,181.49 L482.93,180.91 L483.08,180.32 L483.23,179.73 L483.39,179.15 L483.54,178.56 L483.69,177.97 L483.84,177.38 L483.99,176.79 L484.13,176.20 L484.28,175.61 L484.43,175.02 L484.57,174.43 L484.71,173.84 L484.86,173.25 L485.00,172.66 L485.14,172.07 L485.28,171.47 L485.42,170.88 L485.56,170.29 L485.70,169.69 L485.84,169.10 L485.97,168.51 L486.11,167.91 L486.24,167.32 L486.38,166.72 L486.51,166.13 L486.64,165.53 L486.77,164.94 L486.90,164.34 L487.04,163.75 L487.16,163.15 L487.29,162.56 L487.42,161.96 L487.55,161.36 L487.68,160.76 L487.80,160.17 L487.93,159.57 L488.05,158.97 L488.18,158.37 L488.30,157.78 L488.43,157.18 L488.55,156.58 L488.67,155.98 L488.79,155.38 L488.91,154.78 L489.03,154.18 L489.15,153.58 L489.27,152.98 L489.39,152.38 L489.51,151.78 L489.63,151.18 L489.75,150.58 L489.86,149.98 L489.98,149.38 L490.10,148.78 L490.21,148.17 L490.33,147.57 L490.44,146.97 L490.56,146.37 L490.67,145.77 L490.79,145.17 L490.90,144.56 L491.01,143.96 L491.13,143.36 L491.24,142.76 L491.35,142.15 L491.46,141.55 L491.58,140.95 L491.69,140.34 L491.80,139.74 L491.91,139.14 L492.02,138.53 L492.13,137.93 L492.24,137.33 L492.35,136.72 L492.46,136.12 L492.57,135.52 L492.68,134.91 L492.79,134.31 L492.90,133.70 L493.01,133.10 L493.12,132.50 L493.23,131.89 L493.34,131.29 L493.45,130.68 L493.55,130.08 L493.66,129.48 L493.77,128.87 L493.88,128.27 L493.99,127.66 L494.10,127.06 L494.21,126.45 L494.31,125.85 L494.42,125.24 L494.53,124.64 L494.64,124.04 L494.75,123.43 L494.86,122.83 L494.97,122.22 L495.08,121.62 L495.18,121.01 L495.29,120.41 L495.40,119.81 L495.51,119.20 L495.62,118.60 L495.73,117.99 L495.84,117.39 L495.95,116.78 L496.06,116.18 L496.17,115.58 L496.28,114.97 L496.39,114.37 L496.50,113.77 L496.62,113.16 L496.73,112.56 L496.84,111.95 L496.95,111.35 L497.06,110.75 L497.18,110.14 L497.29,109.54 L497.40,108.94 L497.52,108.34 L497.63,107.73 L497.74,107.13 L497.86,106.53 L497.97,105.92 L498.09,105.32 L498.20,104.72 L498.32,104.12 L498.44,103.52 L498.55,102.91 L498.67,102.31 L498.79,101.71 L498.91,101.11 L499.03,100.51 L499.15,99.91 L499.27,99.31 L499.39,98.71 L499.51,98.11 L499.63,97.51 L499.75,96.91 L499.87,96.31 L500.00,95.71 L500.12,95.11 L500.25,94.51 L500.37,93.91 L500.50,93.31 L500.62,92.71 L500.75,92.11 L500.88,91.51 L501.00,90.92 L501.13,90.32 L501.26,89.72 L501.39,89.12 L501.52,88.53 L501.66,87.93 L501.79,87.33 L501.92,86.74 L502.05,86.14 L502.19,85.54 L502.32,84.95 L502.46,84.35 L502.60,83.76 L502.74,83.16 L502.87,82.57 L503.01,81.97 L503.15,81.38 L503.29,80.79 L503.44,80.19 L503.58,79.60 L503.72,79.01 L503.87,78.42 L504.01,77.82 L504.16,77.23 L504.31,76.64 L504.46,76.05 L504.60,75.46 L504.75,74.87 L504.91,74.28 L505.06,73.69 L505.21,73.10 L505.37,72.51 L505.52,71.92 L505.68,71.33 L505.83,70.74 L505.99,70.16 L506.15,69.57 L506.31,68.98 L506.47,68.40 L506.64,67.81 L506.80,67.22 L506.97,66.64 L507.13,66.05 L507.30,65.47 L507.47,64.89 L507.64,64.30 L507.81,63.72 L507.98,63.14 L508.15,62.55 L508.33,61.97 L508.50,61.39 L508.68,60.81 L508.86,60.23 L509.04,59.65 L509.22,59.07 L509.40,58.49 L509.58,57.91 L509.77,57.33 L509.95,56.75 L510.14,56.17 L510.33,55.60 L510.52,55.02 L510.71,54.44 L510.90,53.87 L511.09,53.29 L511.29,52.72 L511.49,52.14 L511.68,51.57 L511.88,51.00 L512.08,50.42 L512.29,49.85 L512.49,49.28 L512.70,48.71 L512.90,48.14 L513.11,47.57 L513.32,47.00 L513.53,46.43 L513.75,45.86 L513.96,45.29 L514.18,44.73 L514.39,44.16 L514.61,43.59 L514.83,43.03 L515.06,42.46 L515.28,41.90 L515.51,41.33 L515.73,40.77 L515.96,40.21 L516.19,39.64 L516.42,39.08 L516.66,38.52 L516.89,37.96 L517.13,37.40 L517.37,36.84 L517.61,36.28 L517.85,35.72 L518.10,35.16 L518.34,34.61 L518.59,34.05 L518.84,33.50 L519.09,32.94 L519.35,32.39 L519.60,31.83 L519.86,31.28 L520.13,30.73 L520.40,30.18 L520.67,29.64 L520.95,29.09 L521.24,28.55 L521.53,28.01 L521.83,27.48 L522.14,26.94 L522.45,26.41 L522.77,25.89 L523.10,25.36 L523.44,24.84 L523.79,24.32 L524.15,23.81 L524.51,23.30 L524.89,22.80 L525.28,22.30 L525.68,21.80 L526.10,21.31 L526.52,20.83 L526.96,20.35 L527.41,19.88 L527.87,19.43 L528.34,18.99 L528.82,18.57 L529.31,18.17 L529.80,17.80 L530.30,17.46 L530.81,17.15 L531.33,16.87 L531.85,16.64 L532.37,16.44 L532.90,16.29 L533.42,16.18 L533.96,16.13 L534.49,16.12 L535.03,16.17 L535.57,16.25 L536.11,16.38 L536.65,16.56 L537.20,16.77 L537.75,17.03 L538.31,17.32 L538.87,17.65 L539.43,18.01 L540.00,18.40" stroke="#151515" stroke-width="1.5"/>
<path d="M337.60,188.77 L338.21,188.80 L338.82,188.83 L339.43,188.85 L340.04,188.88 L340.65,188.92 L341.26,188.95 L341.87,188.98 L342.48,189.02 L343.09,189.06 L343.70,189.09 L344.30,189.13 L344.91,189.17 L345.52,189.21 L346.13,189.26 L346.74,189.30 L347.35,189.35 L347.96,189.39 L348.57,189.44 L349.18,189.49 L349.79,189.54 L350.39,189.59 L351.00,189.65 L351.61,189.70 L352.22,189.76 L352.83,189.82 L353.44,189.87 L354.04,189.93 L354.65,190.00 L355.26,190.06 L355.87,190.12 L356.47,190.19 L357.08,190.25 L357.69,190.32 L358.30,190.39 L358.90,190.46 L359.51,190.53 L360.12,190.61 L360.72,190.68 L361.33,190.76 L361.94,190.83 L362.54,190.91 L363.15,190.99 L363.75,191.07 L364.36,191.16 L364.96,191.24 L365.57,191.33 L366.17,191.41 L366.78,191.50 L367.38,191.59 L367.99,191.68 L368.59,191.77 L369.20,191.87 L369.80,191.96 L370.41,192.06 L371.01,192.16 L371.61,192.26 L372.22,192.36 L372.82,192.46 L373.42,192.56 L374.02,192.67 L374.63,192.77 L375.23,192.88 L375.83,192.99 L376.43,193.10 L377.03,193.21 L377.63,193.33 L378.23,193.44 L378.83,193.56 L379.43,193.68 L380.03,193.80 L380.63,193.92 L381.23,194.04 L381.83,194.16 L382.43,194.29 L383.03,194.41 L383.63,194.54 L384.23,194.67 L384.82,194.80 L385.42,194.93 L386.02,195.07 L386.62,195.20 L387.21,195.34 L387.81,195.48 L388.40,195.62 L389.00,195.76 L389.60,195.90 L390.19,196.05 L390.79,196.19 L391.38,196.34 L391.97,196.49 L392.57,196.64 L393.16,196.79 L393.75,196.94 L394.35,197.10 L394.94,197.25 L395.53,197.41 L396.12,197.57 L396.71,197.73 L397.30,197.89 L397.89,198.06 L398.48,198.22 L399.07,198.39 L399.66,198.56 L400.25,198.73 L400.84,198.90 L401.43,199.07 L402.02,199.25 L402.60,199.43 L403.19,199.60 L403.78,199.78 L404.36,199.96 L404.95,200.15 L405.53,200.33 L406.12,200.52 L406.70,200.70 L407.29,200.89 L407.87,201.08 L408.45,201.28 L409.04,201.47 L409.62,201.66 L410.20,201.86 L410.78,202.06 L411.36,202.26 L411.94,202.46 L412.52,202.67 L413.10,202.87 L413.68,203.08 L414.26,203.28 L414.84,203.49 L415.42,203.70 L415.99,203.92 L416.57,204.13 L417.15,204.34 L417.72,204.56 L418.30,204.78 L418.87,205.00 L419.45,205.22 L420.02,205.44 L420.59,205.66 L421.16,205.88 L421.73,206.11 L422.30,206.33 L422.88,206.56 L423.44,206.78 L424.01,207.01 L424.58,207.24 L425.15,207.47 L425.72,207.70 L426.28,207.94 L426.85,208.17 L427.41,208.40 L427.98,208.64 L428.54,208.87 L429.10,209.11 L429.66,209.35 L430.23,209.58 L430.79,209.82 L431.35,210.06 L431.90,210.30 L432.46,210.54 L433.02,210.78 L433.58,211.02 L434.13,211.26 L434.69,211.51 L435.24,211.75 L435.80,211.99 L436.35,212.24 L436.90,212.48 L437.45,212.73 L438.01,212.98 L438.56,213.23 L439.11,213.48 L439.66,213.73 L440.21,213.98 L440.76,214.23 L441.31,214.49 L441.86,214.74 L442.41,215.00 L442.96,215.26 L443.51,215.52 L444.06,215.78 L444.61,216.05 L445.16,216.31 L445.71,216.58 L446.26,216.85 L446.81,217.12 L447.36,217.39 L447.91,217.67 L448.46,217.94 L449.02,218.22 L449.57,218.50 L450.12,218.78 L450.67,219.07 L451.23,219.36 L451.78,219.65 L452.34,219.94 L452.89,220.23 L453.45,220.53 L454.00,220.83 L454.56,221.13 L455.12,221.44 L455.68,221.74 L456.24,222.05 L456.80,222.37 L457.36,222.68 L457.93,223.00 L458.49,223.32 L459.06,223.65 L459.62,223.98 L460.19,224.30 L460.76,224.63 L461.32,224.94 L461.89,225.23 L462.45,225.50 L463.00,225.74 L463.56,225.94 L464.10,226.10 L464.64,226.22 L465.18,226.28 L465.70,226.28 L466.22,226.21 L466.72,226.08 L467.22,225.88 L467.70,225.63 L468.16,225.33 L468.61,224.98 L469.04,224.60 L469.45,224.18 L469.83,223.73 L470.20,223.26 L470.54,222.78 L470.86,222.27 L471.16,221.75 L471.44,221.21 L471.70,220.66 L471.95,220.09 L472.18,219.51 L472.39,218.92 L472.59,218.32 L472.78,217.71 L472.96,217.09 L473.13,216.47 L473.29,215.83 L473.44,215.19 L473.59,214.55 L473.74,213.90 L473.88,213.26 L474.01,212.61 L474.15,211.96 L474.29,211.31 L474.43,210.66 L474.57,210.02 L474.71,209.38 L474.86,208.74 L475.02,208.12 L475.18,207.49 L475.35,206.87 L475.52,206.26 L475.69,205.65 L475.87,205.05 L476.05,204.44 L476.24,203.85 L476.43,203.25 L476.61,202.66 L476.80,202.07 L477.00,201.48 L477.19,200.89 L477.38,200.30 L477.57,199.71 L477.76,199.12 L477.95,198.54 L478.14,197.95 L478.33,197.36 L478.52,196.77 L478.70,196.18 L478.89,195.59 L479.07,195.00 L479.25,194.41 L479.43,193.82 L479.61,193.23 L479.78,192.64 L479.96,192.05 L480.13,191.45 L480.31,190.86 L480.48,190.27 L480.65,189.68 L480.82,189.08 L480.99,188.49 L481.16,187.89 L481.32,187.30 L481.49,186.70 L481.65,186.11 L481.82,185.51 L481.98,184.92 L482.14,184.32 L482.30,183.72 L482.46,183.13 L482.61,182.53 L482.77,181.93 L482.93,181.33 L483.08,180.73 L483.23,180.14 L483.39,179.54 L483.54,178.94 L483.69,178.34 L483.84,177.74 L483.99,177.14 L484.13,176.54 L484.28,175.94 L484.43,175.34 L484.57,174.74 L484.71,174.14 L484.86,173.54 L485.00,172.93 L485.14,172.33 L485.28,171.73 L485.42,171.13 L485.56,170.53 L485.70,169.92 L485.84,169.32 L485.97,168.72 L486.11,168.12 L486.24,167.51 L486.38,166.91 L486.51,166.31 L486.64,165.70 L486.77,165.10 L486.90,164.50 L487.04,163.89 L487.16,163.29 L487.29,162.68 L487.42,162.08 L487.55,161.47 L487.68,160.87 L487.80,160.27 L487.93,159.66 L488.05,159.06 L488.18,158.45 L488.30,157.85 L488.43,157.24 L488.55,156.64 L488.67,156.03 L488.79,155.43 L488.91,154.82 L489.03,154.22 L489.15,153.61 L489.27,153.01 L489.39,152.40 L489.51,151.80 L489.63,151.19 L489.75,150.59 L489.86,149.99 L489.98,149.38 L490.10,148.78 L490.21,148.18 L490.33,147.57 L490.44,146.97 L490.56,146.37 L490.67,145.77 L490.79,145.17 L490.90,144.56 L491.01,143.96 L491.13,143.36 L491.24,142.76 L491.35,142.15 L491.46,141.55 L491.58,140.95 L491.69,140.34 L491.80,139.74 L491.91,139.14 L492.02,138.53 L492.13,137.93 L492.24,137.33 L492.35,136.72 L492.46,136.12 L492.57,135.52 L492.68,134.91 L492.79,134.31 L492.90,133.70 L493.01,133.10 L493.12,132.50 L493.23,131.89 L493.34,131.29 L493.45,130.68 L493.55,130.08 L493.66,129.48 L493.77,128.87 L493.88,128.27 L493.99,127.66 L494.10,127.06 L494.21,126.45 L494.31,125.85 L494.42,125.24 L494.53,124.64 L494.64,124.04 L494.75,123.43 L494.86,122.83 L494.97,122.22 L495.08,121.62 L495.18,121.01 L495.29,120.41 L495.40,119.81 L495.51,119.20 L495.62,118.60 L495.73,117.99 L495.84,117.39 L495.95,116.78 L496.06,116.18 L496.17,115.58 L496.28,114.97 L496.39,114.37 L496.50,113.77 L496.62,113.16 L496.73,112.56 L496.84,111.95 L496.95,111.35 L497.06,110.75 L497.18,110.14 L497.29,109.54 L497.40,108.94 L497.52,108.34 L497.63,107.73 L497.74,107.13 L497.86,106.53 L497.97,105.92 L498.09,105.32 L498.20,104.72 L498.32,104.12 L498.44,103.52 L498.55,102.91 L498.67,102.31 L498.79,101.71 L498.91,101.11 L499.03,100.51 L499.15,99.91 L499.27,99.31 L499.39,98.71 L499.51,98.11 L499.63,97.51 L499.75,96.91 L499.87,96.31 L500.00,95.71 L500.12,95.11 L500.25,94.51 L500.37,93.91 L500.50,93.31 L500.62,92.71 L500.75,92.11 L500.88,91.51 L501.00,90.92 L501.13,90.32 L501.26,89.72 L501.39,89.12 L501.52,88.53 L501.66,87.93 L501.79,87.33 L501.92,86.74 L502.05,86.14 L502.19,85.54 L502.32,84.95 L502.46,84.35 L502.60,83.76 L502.74,83.16 L502.87,82.57 L503.01,81.97 L503.15,81.38 L503.29,80.79 L503.44,80.19 L503.58,79.60 L503.72,79.01 L503.87,78.42 L504.01,77.82 L504.16,77.23 L504.31,76.64 L504.46,76.05 L504.60,75.46 L504.75,74.87 L504.91,74.28 L505.06,73.69 L505.21,73.10 L505.37,72.51 L505.52,71.92 L505.68,71.33 L505.83,70.74 L505.99,70.16 L506.15,69.57 L506.31,68.98 L506.47,68.40 L506.64,67.81 L506.80,67.22 L506.97,66.64 L507.13,66.05 L507.30,65.47 L507.47,64.89 L507.64,64.30 L507.81,63.72 L507.98,63.14 L508.15,62.55 L508.33,61.97 L508.50,61.39 L508.68,60.81 L508.86,60.23 L509.04,59.65 L509.22,59.07 L509.40,58.49 L509.58,57.91 L509.77,57.33 L509.95,56.75 L510.14,56.17 L510.33,55.60 L510.52,55.02 L510.71,54.44 L510.90,53.87 L511.09,53.29 L511.29,52.72 L511.49,52.14 L511.68,51.57 L511.88,51.00 L512.08,50.42 L512.29,49.85 L512.49,49.28 L512.70,48.71 L512.90,48.14 L513.11,47.57 L513.32,47.00 L513.53,46.43 L513.75,45.86 L513.96,45.29 L514.18,44.73 L514.39,44.16 L514.61,43.59 L514.83,43.03 L515.06,42.46 L515.28,41.90 L515.51,41.33 L515.73,40.77 L515.96,40.21 L516.19,39.64 L516.42,39.08 L516.66,38.52 L516.89,37.96 L517.13,37.40 L517.37,36.84 L517.61,36.28 L517.85,35.72 L518.10,35.16 L518.34,34.61 L518.59,34.05 L518.84,33.50 L519.09,32.94 L519.35,32.39 L519.60,31.83 L519.86,31.28 L520.13,30.73 L520.40,30.18 L520.67,29.64 L520.95,29.09 L521.24,28.55 L521.53,28.01 L521.83,27.48 L522.14,26.94 L522.45,26.41 L522.77,25.89 L523.10,25.36 L523.44,24.84 L523.44,24.84 L523.66,24.71 L523.87,24.57 L524.07,24.43 L524.26,24.29 L524.44,24.14 L524.62,23.98 L524.79,23.83 L524.96,23.67 L525.11,23.50 L525.27,23.33 L525.41,23.16 L525.56,22.99 L525.69,22.81 L525.83,22.63 L525.95,22.44 L526.08,22.26 L526.20,22.07 L526.32,21.87 L526.44,21.68 L526.56,21.48 L526.67,21.28 L526.79,21.08 L526.90,20.88 L527.01,20.68 L527.13,20.47 L527.24,20.26 L527.35,20.06 L527.47,19.85 L527.59,19.64 L527.71,19.42 L527.83,19.21 L527.95,19.00 L528.08,18.78 L528.21,18.57 L528.35,18.36 L528.49,18.14 L528.64,17.93 L528.79,17.71 L528.94,17.50 L529.11,17.28 L529.28,17.07 L529.45,16.86 L529.63,16.65 L529.82,16.46 L530.00,16.28 L530.20,16.11 L530.39,15.96 L530.58,15.84 L530.78,15.74 L530.97,15.68 L531.16,15.65 L531.35,15.65 L531.54,15.70 L531.72,15.77 L531.90,15.88 L532.08,16.02 L532.25,16.18 L532.41,16.37 L532.57,16.57 L532.72,16.80 L532.86,17.04 L533.00,17.28 L533.13,17.54 L533.25,17.81 L533.36,18.07 L533.47,18.34 L533.57,18.61 L533.67,18.87 L533.77,19.12 L533.88,19.37 L533.98,19.60 L534.10,19.81 L534.22,20.00 L534.35,20.18 L534.49,20.32 L534.64,20.44 L534.81,20.54 L534.99,20.59 L535.19,20.62 L535.40,20.61 L535.62,20.58 L535.85,20.52 L536.07,20.44 L536.28,20.33 L536.49,20.21 L536.68,20.07 L536.86,19.91 L537.02,19.74 L537.17,19.56 L537.30,19.37 L537.41,19.16 L537.52,18.95 L537.61,18.73 L537.70,18.50 L537.78,18.26 L537.85,18.02 L537.91,17.77 L537.97,17.52 L538.03,17.27 L538.08,17.01 L538.14,16.76 L538.19,16.50 L538.25,16.25 L538.31,16.00 L538.38,15.75 L538.45,15.51 L538.53,15.27 L538.62,15.04 L538.71,14.82 L538.82,14.60 L538.94,14.40 L539.08,14.20 L539.23,14.01 L539.39,13.84 L539.57,13.68 L539.77,13.54 L539.99,13.41 L540.24,13.30 L540.50,13.20" stroke="#f00" stroke-width="1.35" stroke-dasharray="6 2.5"/>
<path d="M337.60,189.65 L338.21,189.68 L338.82,189.70 L339.43,189.73 L340.04,189.77 L340.65,189.80 L341.26,189.83 L341.87,189.87 L342.48,189.90 L343.09,189.94 L343.70,189.98 L344.30,190.02 L344.91,190.06 L345.52,190.11 L346.13,190.15 L346.74,190.20 L347.35,190.24 L347.96,190.29 L348.57,190.34 L349.18,190.39 L349.79,190.44 L350.39,190.50 L351.00,190.55 L351.61,190.61 L352.22,190.67 L352.83,190.73 L353.44,190.79 L354.04,190.85 L354.65,190.91 L355.26,190.98 L355.87,191.04 L356.47,191.11 L357.08,191.18 L357.69,191.25 L358.30,191.32 L358.90,191.39 L359.51,191.47 L360.12,191.54 L360.72,191.62 L361.33,191.70 L361.94,191.78 L362.54,191.86 L363.15,191.94 L363.75,192.03 L364.36,192.11 L364.96,192.20 L365.57,192.29 L366.17,192.38 L366.78,192.47 L367.38,192.56 L367.99,192.65 L368.59,192.75 L369.20,192.84 L369.80,192.94 L370.41,193.04 L371.01,193.14 L371.61,193.25 L372.22,193.35 L372.82,193.46 L373.42,193.56 L374.02,193.67 L374.63,193.78 L375.23,193.89 L375.83,194.01 L376.43,194.12 L377.03,194.24 L377.63,194.35 L378.23,194.47 L378.83,194.59 L379.43,194.71 L380.03,194.84 L380.63,194.96 L381.23,195.09 L381.83,195.22 L382.43,195.34 L383.03,195.48 L383.63,195.61 L384.23,195.74 L384.82,195.88 L385.42,196.01 L386.02,196.15 L386.62,196.29 L387.21,196.43 L387.81,196.58 L388.40,196.72 L389.00,196.87 L389.60,197.01 L390.19,197.16 L390.79,197.31 L391.38,197.47 L391.97,197.62 L392.57,197.78 L393.16,197.93 L393.75,198.09 L394.35,198.25 L394.94,198.41 L395.53,198.58 L396.12,198.74 L396.71,198.91 L397.30,199.08 L397.89,199.25 L398.48,199.42 L399.07,199.59 L399.66,199.76 L400.25,199.94 L400.84,200.12 L401.43,200.30 L402.02,200.48 L402.60,200.66 L403.19,200.85 L403.78,201.03 L404.36,201.22 L404.95,201.41 L405.53,201.60 L406.12,201.79 L406.70,201.99 L407.29,202.18 L407.87,202.38 L408.45,202.58 L409.04,202.78 L409.62,202.98 L410.20,203.18 L410.78,203.39 L411.36,203.60 L411.94,203.81 L412.52,204.02 L413.10,204.23 L413.68,204.44 L414.26,204.66 L414.84,204.88 L415.42,205.09 L415.99,205.31 L416.57,205.54 L417.15,205.76 L417.72,205.98 L418.30,206.21 L418.87,206.43 L419.45,206.66 L420.02,206.89 L420.59,207.12 L421.16,207.35 L421.73,207.59 L422.30,207.82 L422.88,208.05 L423.44,208.29 L424.01,208.53 L424.58,208.77 L425.15,209.00 L425.72,209.24 L426.28,209.49 L426.85,209.73 L427.41,209.97 L427.98,210.21 L428.54,210.46 L429.10,210.70 L429.66,210.95 L430.23,211.20 L430.79,211.44 L431.35,211.69 L431.90,211.94 L432.46,212.19 L433.02,212.44 L433.58,212.69 L434.13,212.94 L434.69,213.19 L435.24,213.45 L435.80,213.70 L436.35,213.96 L436.90,214.21 L437.45,214.47 L438.01,214.72 L438.56,214.98 L439.11,215.24 L439.66,215.50 L440.21,215.77 L440.76,216.03 L441.31,216.29 L441.86,216.56 L442.41,216.83 L442.96,217.10 L443.51,217.37 L444.06,217.64 L444.61,217.92 L445.16,218.19 L445.71,218.47 L446.26,218.75 L446.81,219.03 L447.36,219.32 L447.91,219.60 L448.46,219.89 L449.02,220.18 L449.57,220.47 L450.12,220.77 L450.67,221.06 L451.23,221.36 L451.78,221.66 L452.34,221.97 L452.89,222.27 L453.45,222.58 L454.00,222.90 L454.56,223.21 L455.12,223.53 L455.68,223.85 L456.24,224.17 L456.80,224.50 L457.36,224.83 L457.93,225.16 L458.49,225.50 L459.06,225.83 L459.62,226.18 L460.19,226.52 L460.76,226.85 L461.32,227.18 L461.89,227.48 L462.45,227.76 L463.00,228.01 L463.56,228.23 L464.10,228.40 L464.64,228.51 L465.18,228.58 L465.70,228.58 L466.22,228.51 L466.72,228.37 L467.22,228.16 L467.70,227.90 L468.16,227.59 L468.61,227.23 L469.04,226.82 L469.45,226.39 L469.83,225.92 L470.20,225.43 L470.54,224.93 L470.86,224.40 L471.16,223.86 L471.44,223.30 L471.70,222.72 L471.95,222.13 L472.18,221.53 L472.39,220.91 L472.59,220.28 L472.78,219.65 L472.96,219.00 L473.13,218.35 L473.29,217.69 L473.44,217.03 L473.59,216.36 L473.74,215.69 L473.88,215.01 L474.01,214.34 L474.15,213.66 L474.29,212.99 L474.43,212.32 L474.57,211.65 L474.71,210.98 L474.86,210.32 L475.02,209.67 L475.18,209.02 L475.35,208.38 L475.52,207.75 L475.69,207.11 L475.87,206.49 L476.05,205.86 L476.24,205.24 L476.43,204.62 L476.61,204.01 L476.80,203.40 L477.00,202.78 L477.19,202.17 L477.38,201.57 L477.57,200.96 L477.76,200.35 L477.95,199.74 L478.14,199.13 L478.33,198.52 L478.52,197.91 L478.70,197.30 L478.89,196.70 L479.07,196.09 L479.25,195.47 L479.43,194.86 L479.61,194.25 L479.78,193.64 L479.96,193.03 L480.13,192.42 L480.31,191.81 L480.48,191.19 L480.65,190.58 L480.82,189.97 L480.99,189.36 L481.16,188.74 L481.32,188.13 L481.49,187.52 L481.65,186.90 L481.82,186.29 L481.98,185.67 L482.14,185.06 L482.30,184.44 L482.46,183.83 L482.61,183.22 L482.77,182.60 L482.93,181.99 L483.08,181.37 L483.23,180.75 L483.39,180.14 L483.54,179.52 L483.69,178.91 L483.84,178.29 L483.99,177.67 L484.13,177.06 L484.28,176.44 L484.43,175.83 L484.57,175.21 L484.71,174.59 L484.86,173.98 L485.00,173.36 L485.14,172.74 L485.28,172.13 L485.42,171.51 L485.56,170.89 L485.70,170.28 L485.84,169.66 L485.97,169.04 L486.11,168.43 L486.24,167.81 L486.38,167.19 L486.51,166.58 L486.64,165.96 L486.77,165.34 L486.90,164.73 L487.04,164.11 L487.16,163.50 L487.29,162.88 L487.42,162.26 L487.55,161.65 L487.68,161.03 L487.80,160.42 L487.93,159.80 L488.05,159.19 L488.18,158.57 L488.30,157.96 L488.43,157.34 L488.55,156.73 L488.67,156.11 L488.79,155.50 L488.91,154.89 L489.03,154.28 L489.15,153.66 L489.27,153.05 L489.39,152.44 L489.51,151.83 L489.63,151.22 L489.75,150.61 L489.86,150.00 L489.98,149.39 L490.10,148.78 L490.21,148.18 L490.33,147.57 L490.44,146.97 L490.56,146.37 L490.67,145.77 L490.79,145.17 L490.90,144.56 L491.01,143.96 L491.13,143.36 L491.24,142.76 L491.35,142.15 L491.46,141.55 L491.58,140.95 L491.69,140.34 L491.80,139.74 L491.91,139.14 L492.02,138.53 L492.13,137.93 L492.24,137.33 L492.35,136.72 L492.46,136.12 L492.57,135.52 L492.68,134.91 L492.79,134.31 L492.90,133.70 L493.01,133.10 L493.12,132.50 L493.23,131.89 L493.34,131.29 L493.45,130.68 L493.55,130.08 L493.66,129.48 L493.77,128.87 L493.88,128.27 L493.99,127.66 L494.10,127.06 L494.21,126.45 L494.31,125.85 L494.42,125.24 L494.53,124.64 L494.64,124.04 L494.75,123.43 L494.86,122.83 L494.97,122.22 L495.08,121.62 L495.18,121.01 L495.29,120.41 L495.40,119.81 L495.51,119.20 L495.62,118.60 L495.73,117.99 L495.84,117.39 L495.95,116.78 L496.06,116.18 L496.17,115.58 L496.28,114.97 L496.39,114.37 L496.50,113.77 L496.62,113.16 L496.73,112.56 L496.84,111.95 L496.95,111.35 L497.06,110.75 L497.18,110.14 L497.29,109.54 L497.40,108.94 L497.52,108.34 L497.63,107.73 L497.74,107.13 L497.86,106.53 L497.97,105.92 L498.09,105.32 L498.20,104.72 L498.32,104.12 L498.44,103.52 L498.55,102.91 L498.67,102.31 L498.79,101.71 L498.91,101.11 L499.03,100.51 L499.15,99.91 L499.27,99.31 L499.39,98.71 L499.51,98.11 L499.63,97.51 L499.75,96.91 L499.87,96.31 L500.00,95.71 L500.12,95.11 L500.25,94.51 L500.37,93.91 L500.50,93.31 L500.62,92.71 L500.75,92.11 L500.88,91.51 L501.00,90.92 L501.13,90.32 L501.26,89.72 L501.39,89.12 L501.52,88.53 L501.66,87.93 L501.79,87.33 L501.92,86.74 L502.05,86.14 L502.19,85.54 L502.32,84.95 L502.46,84.35 L502.60,83.76 L502.74,83.16 L502.87,82.57 L503.01,81.97 L503.15,81.38 L503.29,80.79 L503.44,80.19 L503.58,79.60 L503.72,79.01 L503.87,78.42 L504.01,77.82 L504.16,77.23 L504.31,76.64 L504.46,76.05 L504.60,75.46 L504.75,74.87 L504.91,74.28 L505.06,73.69 L505.21,73.10 L505.37,72.51 L505.52,71.92 L505.68,71.33 L505.83,70.74 L505.99,70.16 L506.15,69.57 L506.31,68.98 L506.47,68.40 L506.64,67.81 L506.80,67.22 L506.97,66.64 L507.13,66.05 L507.30,65.47 L507.47,64.89 L507.64,64.30 L507.81,63.72 L507.98,63.14 L508.15,62.55 L508.33,61.97 L508.50,61.39 L508.68,60.81 L508.86,60.23 L509.04,59.65 L509.22,59.07 L509.40,58.49 L509.58,57.91 L509.77,57.33 L509.95,56.75 L510.14,56.17 L510.33,55.60 L510.52,55.02 L510.71,54.44 L510.90,53.87 L511.09,53.29 L511.29,52.72 L511.49,52.14 L511.68,51.57 L511.88,51.00 L512.08,50.42 L512.29,49.85 L512.49,49.28 L512.70,48.71 L512.90,48.14 L513.11,47.57 L513.32,47.00 L513.53,46.43 L513.75,45.86 L513.96,45.29 L514.18,44.73 L514.39,44.16 L514.61,43.59 L514.83,43.03 L515.06,42.46 L515.28,41.90 L515.51,41.33 L515.73,40.77 L515.96,40.21 L516.19,39.64 L516.42,39.08 L516.66,38.52 L516.89,37.96 L517.13,37.40 L517.37,36.84 L517.61,36.28 L517.85,35.72 L518.10,35.16 L518.34,34.61 L518.59,34.05 L518.84,33.50 L519.09,32.94 L519.35,32.39 L519.35,32.39 L519.34,32.02 L519.35,31.66 L519.37,31.31 L519.40,30.97 L519.44,30.63 L519.49,30.29 L519.55,29.96 L519.62,29.64 L519.70,29.32 L519.79,29.01 L519.89,28.70 L520.00,28.39 L520.12,28.09 L520.24,27.79 L520.37,27.50 L520.51,27.22 L520.66,26.93 L520.81,26.65 L520.97,26.37 L521.13,26.10 L521.31,25.83 L521.48,25.57 L521.67,25.30 L521.85,25.04 L522.04,24.78 L522.24,24.53 L522.44,24.27 L522.65,24.02 L522.85,23.77 L523.06,23.53 L523.28,23.28 L523.49,23.04 L523.71,22.80 L523.93,22.56 L524.15,22.32 L524.37,22.08 L524.60,21.84 L524.82,21.60 L525.05,21.37 L525.27,21.13 L525.50,20.90 L525.72,20.66 L525.94,20.43 L526.16,20.19 L526.38,19.96 L526.60,19.72 L526.82,19.48 L527.03,19.25 L527.24,19.01 L527.45,18.77 L527.65,18.53 L527.86,18.29 L528.05,18.04 L528.25,17.80 L528.43,17.55 L528.62,17.30 L528.80,17.04 L528.99,16.77 L529.17,16.50 L529.35,16.22 L529.53,15.92 L529.71,15.62 L529.89,15.30 L530.08,14.96 L530.26,14.62 L530.45,14.27 L530.64,13.95 L530.83,13.65 L531.01,13.39 L531.19,13.18 L531.37,13.04 L531.55,12.97 L531.72,12.99 L531.88,13.10 L532.05,13.27 L532.22,13.50 L532.39,13.78 L532.56,14.10 L532.75,14.43 L532.94,14.78 L533.15,15.12 L533.38,15.45 L533.62,15.75 L533.88,16.02 L534.16,16.24 L534.45,16.41 L534.74,16.53 L535.04,16.60 L535.32,16.60 L535.60,16.54 L535.87,16.41 L536.12,16.23 L536.36,16.01 L536.58,15.75 L536.80,15.47 L537.00,15.17 L537.19,14.86 L537.38,14.56 L537.55,14.25 L537.72,13.95 L537.88,13.66 L538.03,13.36 L538.18,13.07 L538.32,12.77 L538.46,12.48 L538.60,12.20 L538.73,11.91 L538.87,11.63 L539.00,11.35 L539.14,11.07 L539.28,10.79 L539.42,10.51 L539.57,10.23 L539.72,9.96 L539.88,9.69 L540.05,9.41 L540.22,9.14 L540.41,8.87 L540.60,8.60" stroke="#0a8a0a" stroke-width="1.35" stroke-dasharray="5 2.5 1.2 2.5"/>
</g>
<path d="M351.0,31.0 H391.5" stroke="#151515" stroke-width="1.7"/>
<path d="M351.0,45.0 H391.5" stroke="#f00" stroke-width="1.6" stroke-dasharray="10.3 4 11 4 11.5"/>
<path d="M351.0,59.0 H391.5" stroke="#0a8a0a" stroke-width="1.6" stroke-dasharray="8 3.9 1.3 3.9"/>
<g fill="#222" stroke="#222" stroke-width="0.25"><text x="395.6" y="32.6" font-family="Liberation Serif, serif" font-style="italic" font-size="14.5">β</text><text x="404.9" y="32.6" font-family="DejaVu Sans, sans-serif" font-size="13">=</text><text x="416.7" y="32.2" font-family="Liberation Sans, sans-serif" font-size="11.2">0.5</text></g>
<g fill="#222" stroke="#222" stroke-width="0.25"><text x="395.6" y="46.6" font-family="Liberation Serif, serif" font-style="italic" font-size="14.5">β</text><text x="404.9" y="46.6" font-family="DejaVu Sans, sans-serif" font-size="13">=</text><text x="416.7" y="46.2" font-family="Liberation Sans, sans-serif" font-size="11.2">0.2</text></g>
<g fill="#222" stroke="#222" stroke-width="0.25"><text x="395.6" y="60.6" font-family="Liberation Serif, serif" font-style="italic" font-size="14.5">β</text><text x="404.9" y="60.6" font-family="DejaVu Sans, sans-serif" font-size="13">=</text><text x="416.7" y="60.2" font-family="Liberation Sans, sans-serif" font-size="11.2">0</text></g>
<text x="370" y="121.1" font-family="Liberation Serif, serif" font-size="14.3" letter-spacing="-0.3" fill="#1414f5" stroke="#1414f5" stroke-width="0.25">F-LS (r)</text>
<text x="307.6" y="36.3" font-family="DejaVu Sans, sans-serif" font-size="14.5" fill="#1414f5" stroke="#1414f5" stroke-width="0.2">&#949;</text>
<text x="307.5" y="37.3" font-family="DejaVu Sans, sans-serif" font-size="15" fill="#1414f5" stroke="#1414f5" stroke-width="0.15">&#710;</text>
<text transform="translate(511.1 251.3) scale(1.13 1)" font-family="Liberation Serif, serif" font-style="italic" font-size="17.5" fill="#1414f5" stroke="#1414f5" stroke-width="0.4">r</text>
<text x="416.3" y="269" font-family="Liberation Serif, serif" font-size="13.5" fill="#111">(<tspan font-weight="bold">b</tspan>)</text>
</svg>
</body></html>
